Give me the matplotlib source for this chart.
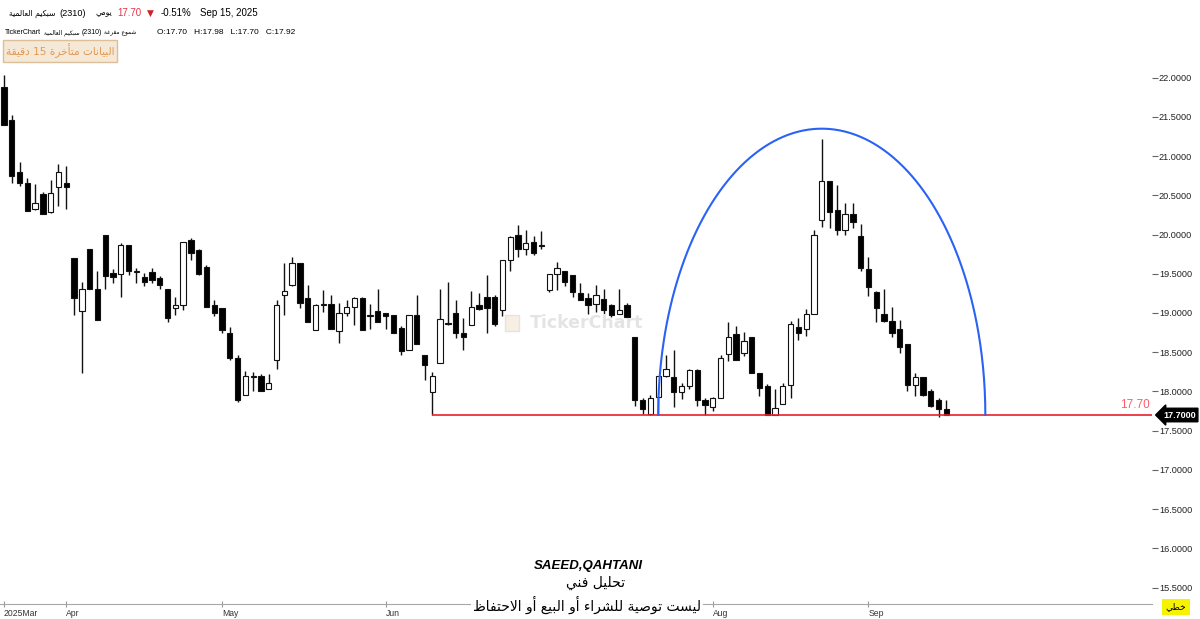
import matplotlib
matplotlib.use('Agg')
from matplotlib import pyplot as plt
from matplotlib.patches import Rectangle
import numpy as np
import re

# daily candles, Sipchem (2310)
opens = [21.88, 21.46, 20.80, 20.66, 20.32, 20.52, 20.29, 20.61, 20.66,
         19.70, 19.02, 19.81, 19.30, 20.00, 19.51, 19.50, 19.87, 19.52, 19.46,
         19.52, 19.44, 19.30, 19.06, 19.10, 19.93, 19.80, 19.59, 19.10, 19.06,
         18.74, 18.42, 17.96, 18.18, 18.20, 18.03, 18.40, 19.23, 19.36, 19.64,
         19.19, 18.78, 19.10, 19.12, 18.77, 19.00, 19.08, 19.19, 18.96, 19.02,
         19.00, 18.98, 18.81, 18.53, 18.98, 18.47, 17.99, 18.36, 18.86, 19.00,
         18.74, 18.85, 19.10, 19.21, 19.21, 19.04, 19.67, 20.00, 19.82, 19.90,
         19.87, 19.29, 19.50, 19.54, 19.48, 19.26, 19.19, 19.12, 19.18, 19.10,
         18.99, 19.10, 18.70, 17.89, 17.71, 17.93, 18.20, 18.18, 17.99, 18.07,
         18.27, 17.89, 17.80, 17.92, 18.48, 18.73, 18.49, 18.69, 18.23, 18.07,
         17.70, 17.84, 18.08, 18.82, 18.80, 18.99, 20.19, 20.68, 20.31, 20.06,
         20.26, 19.98, 19.56, 19.27, 18.99, 18.90, 18.80, 18.60, 18.08, 18.18,
         18.00, 17.89, 17.78]
highs = [22.03, 21.52, 20.92, 20.72, 20.64, 20.54, 20.70, 20.90, 20.88,
         19.70, 19.40, 19.82, 19.54, 20.00, 19.56, 19.89, 19.87, 19.57, 19.51,
         19.58, 19.47, 19.30, 19.21, 19.91, 19.96, 19.82, 19.61, 19.16, 19.06,
         18.82, 18.47, 18.26, 18.25, 18.22, 18.22, 19.16, 19.64, 19.72, 19.64,
         19.36, 19.12, 19.29, 19.23, 19.13, 19.17, 19.20, 19.20, 19.11, 19.31,
         19.00, 18.98, 18.83, 18.98, 19.23, 18.47, 18.25, 19.31, 19.40, 19.16,
         18.94, 19.28, 19.25, 19.49, 19.23, 19.67, 19.98, 20.12, 20.06, 19.98,
         20.05, 19.50, 19.65, 19.54, 19.48, 19.38, 19.25, 19.36, 19.30, 19.12,
         19.30, 19.13, 18.70, 17.91, 17.96, 18.20, 18.46, 18.53, 18.11, 18.28,
         18.28, 17.92, 17.93, 18.46, 18.88, 18.84, 18.76, 18.69, 18.23, 18.10,
         18.03, 18.11, 18.90, 18.94, 19.05, 20.06, 21.22, 20.68, 20.63, 20.40,
         20.40, 20.14, 19.72, 19.28, 19.30, 19.08, 18.91, 18.60, 18.23, 18.19,
         18.03, 17.91, 17.89]
lows = [21.40, 20.66, 20.62, 20.30, 20.31, 20.26, 20.28, 20.36, 20.32,
        18.98, 18.23, 19.30, 18.91, 19.31, 19.38, 19.20, 19.48, 19.38, 19.35,
        19.38, 19.30, 18.88, 18.98, 19.04, 19.67, 19.48, 19.08, 18.96, 18.74,
        18.40, 17.87, 17.95, 18.00, 18.00, 18.03, 18.28, 18.98, 19.34, 19.07,
        18.89, 18.78, 19.01, 18.79, 18.62, 18.96, 18.85, 18.78, 18.79, 18.89,
        18.80, 18.74, 18.47, 18.53, 18.60, 18.14, 17.70, 18.36, 18.85, 18.68,
        18.53, 18.85, 19.04, 18.75, 18.84, 18.96, 19.54, 19.72, 19.74, 19.74,
        19.82, 19.27, 19.29, 19.34, 19.21, 19.16, 18.99, 19.01, 18.99, 18.95,
        18.99, 18.93, 17.82, 17.71, 17.70, 17.70, 18.18, 17.80, 17.90, 18.03,
        17.82, 17.70, 17.75, 17.92, 18.39, 18.40, 18.45, 18.23, 17.94, 17.70,
        17.70, 17.84, 17.92, 18.66, 18.71, 18.99, 20.10, 20.08, 19.99, 20.00,
        20.08, 19.54, 19.22, 18.88, 18.88, 18.69, 18.49, 18.00, 17.94, 17.94,
        17.80, 17.68, 17.70]
closes = [21.40, 20.75, 20.66, 20.30, 20.40, 20.26, 20.53, 20.80, 20.61,
          19.19, 19.30, 19.30, 18.91, 19.47, 19.46, 19.87, 19.54, 19.53, 19.40,
          19.42, 19.36, 18.93, 19.10, 19.91, 19.76, 19.50, 19.08, 19.00, 18.78,
          18.42, 17.89, 18.20, 18.20, 18.01, 18.11, 19.10, 19.28, 19.64, 19.13,
          18.89, 19.10, 19.12, 18.79, 19.00, 19.08, 19.19, 18.78, 18.97, 18.89,
          18.96, 18.74, 18.52, 18.98, 18.60, 18.34, 18.20, 18.92, 18.87, 18.74,
          18.70, 19.08, 19.05, 19.06, 18.86, 19.67, 19.97, 19.82, 19.89, 19.77,
          19.85, 19.50, 19.58, 19.39, 19.27, 19.16, 19.10, 19.23, 19.04, 18.97,
          19.04, 18.95, 17.89, 17.78, 17.91, 18.20, 18.28, 17.99, 18.07, 18.27,
          17.89, 17.83, 17.91, 18.43, 18.69, 18.40, 18.64, 18.23, 18.05, 17.70,
          17.79, 18.07, 18.86, 18.75, 18.99, 19.99, 20.68, 20.29, 20.06, 20.26,
          20.16, 19.58, 19.33, 19.07, 18.90, 18.75, 18.57, 18.08, 18.19, 17.96,
          17.82, 17.78, 17.70]

month_pos = [0, 8, 28, 49, 67, 91, 111]
month_labels = ['2025Mar', 'Apr', 'May', 'Jun', '', 'Aug', 'Sep']  # Jul is hidden under the note
y_ticks = [15.5, 16.0, 16.5, 17.0, 17.5, 18.0, 18.5, 19.0, 19.5, 20.0, 20.5, 21.0, 21.5, 22.0]

support_level = 17.70
support_start = 55
arc_center = 105
arc_halfwidth = 21
arc_top = 21.35

# --- minimal arabic shaping (matplotlib has no bidi / joining) ---
FORMS = {
    'ا': (0xFE8D, 0xFE8E, None, None), 'أ': (0xFE83, 0xFE84, None, None),
    'ب': (0xFE8F, 0xFE90, 0xFE91, 0xFE92), 'ة': (0xFE93, 0xFE94, None, None),
    'ت': (0xFE95, 0xFE96, 0xFE97, 0xFE98), 'ح': (0xFEA1, 0xFEA2, 0xFEA3, 0xFEA4),
    'خ': (0xFEA5, 0xFEA6, 0xFEA7, 0xFEA8), 'د': (0xFEA9, 0xFEAA, None, None),
    'ر': (0xFEAD, 0xFEAE, None, None), 'س': (0xFEB1, 0xFEB2, 0xFEB3, 0xFEB4),
    'ش': (0xFEB5, 0xFEB6, 0xFEB7, 0xFEB8), 'ص': (0xFEB9, 0xFEBA, 0xFEBB, 0xFEBC),
    'ط': (0xFEC1, 0xFEC2, 0xFEC3, 0xFEC4), 'ظ': (0xFEC5, 0xFEC6, 0xFEC7, 0xFEC8),
    'ع': (0xFEC9, 0xFECA, 0xFECB, 0xFECC), 'غ': (0xFECD, 0xFECE, 0xFECF, 0xFED0),
    'ف': (0xFED1, 0xFED2, 0xFED3, 0xFED4), 'ق': (0xFED5, 0xFED6, 0xFED7, 0xFED8),
    'ك': (0xFED9, 0xFEDA, 0xFEDB, 0xFEDC), 'ل': (0xFEDD, 0xFEDE, 0xFEDF, 0xFEE0),
    'م': (0xFEE1, 0xFEE2, 0xFEE3, 0xFEE4), 'ن': (0xFEE5, 0xFEE6, 0xFEE7, 0xFEE8),
    'ه': (0xFEE9, 0xFEEA, 0xFEEB, 0xFEEC), 'و': (0xFEED, 0xFEEE, None, None),
    'ي': (0xFEF1, 0xFEF2, 0xFEF3, 0xFEF4), 'ء': (0xFE80, None, None, None),
}
LAM_ALEF = {'ا': (0xFEFB, 0xFEFC), 'أ': (0xFEF7, 0xFEF8)}


def ar(text):
    chars = list(text)
    out = []
    i = 0
    prev_dual = False
    while i < len(chars):
        c = chars[i]
        if c not in FORMS:
            out.append(c)
            prev_dual = False
            i += 1
            continue
        iso, fin, ini, med = FORMS[c]
        jp = prev_dual and fin is not None
        if c == 'ل' and i + 1 < len(chars) and chars[i + 1] in LAM_ALEF:
            lig = LAM_ALEF[chars[i + 1]]
            out.append(chr(lig[1] if jp else lig[0]))
            prev_dual = False
            i += 2
            continue
        nxt = chars[i + 1] if i + 1 < len(chars) else ''
        jn = ini is not None and nxt in FORMS and FORMS[nxt][1] is not None
        if jp and jn:
            f = med
        elif jp:
            f = fin
        elif jn:
            f = ini
        else:
            f = iso
        out.append(chr(f))
        prev_dual = ini is not None
        i += 1
    s = ''.join(out)[::-1]
    return re.sub(r'[0-9A-Za-z.,:%]+', lambda m: m.group(0)[::-1], s)


AR = ['DejaVu Sans']
LAT = ['Liberation Sans']

fig = plt.figure(figsize=(12, 6.19), dpi=100)
renderer = fig.canvas.get_renderer()
ax = fig.add_axes([0, 15 / 619, 1152 / 1200, (604 - 62) / 619])

x = np.arange(len(opens))
o = np.array(opens)
c = np.array(closes)
up = c >= o

ax.vlines(x, lows, highs, color='#111111', linewidth=1, zorder=2)
body = np.where(np.abs(c - o) < 0.012, 0.012, c - o)
ax.bar(x, body, bottom=o, width=0.68,
       color=np.where(up, 'white', 'black'), edgecolor='#111111',
       linewidth=0.8, zorder=3)

# support line and arc
ax.hlines(support_level, support_start, 200, color='#e8202e', linewidth=1.2, zorder=4)
t = np.linspace(0, np.pi, 300)
ax.plot(arc_center + arc_halfwidth * np.cos(t),
        support_level + (arc_top - support_level) * np.sin(t),
        color='#2a62f5', linewidth=1.5, zorder=4)

ax.set_xlim(-0.51, 147.4)
ax.set_ylim(15.29, 22.20)

for s in ['top', 'left', 'right']:
    ax.spines[s].set_visible(False)
ax.spines['bottom'].set_color('#a8a8a8')

ax.yaxis.tick_right()
ax.set_yticks(y_ticks)
ax.set_yticklabels(['%.4f' % v for v in y_ticks], fontfamily='Liberation Sans')
ax.tick_params(axis='y', length=4, color='#666666', labelsize=6.6, pad=1, labelcolor='#222222')
ax.set_xticks(month_pos)
ax.set_xticklabels(month_labels, fontfamily='Liberation Sans')
ax.tick_params(axis='x', direction='inout', length=5, color='#999999', labelsize=6.2,
               pad=1, labelcolor='#333333')
for lbl in ax.get_xticklabels():
    lbl.set_ha('left')

# right side labels
ax.text(0.998, support_level + 0.045, '17.70', transform=ax.get_yaxis_transform(),
        ha='right', va='bottom', color='#ff5a6a', fontsize=8.5, fontfamily='Liberation Sans')
fig.text(1163 / 1200, 1 - 415 / 619, '17.7000', color='white', fontsize=6.5, fontweight='bold',
         fontfamily='Liberation Sans', ha='left', va='center',
         bbox=dict(boxstyle='larrow,pad=0.25', facecolor='black', edgecolor='black'))

# watermark
fig.text(587 / 1200, 1 - 323 / 619, 'TickerChart', color='#e4e4e4', fontsize=12.5,
         fontweight='bold', ha='center', va='center', zorder=0)
fig.patches.append(Rectangle((505 / 1200, 1 - 331 / 619), 14 / 1200, 16 / 619,
                             transform=fig.transFigure, facecolor='#f7efe2',
                             edgecolor='#e4e4e4', linewidth=1, zorder=0))


def px(xp, yp):
    return xp / 1200, 1 - yp / 619


def row(x0, yp, items):
    # items: (text, fontsize, family, color, gap after in px)
    xp = x0
    for txt, size, fam, col, gap in items:
        tx = fig.text(*px(xp, yp), txt, fontsize=size, family=fam, color=col, va='center')
        xp = tx.get_window_extent(renderer).x1 + gap


# header line 1
row(9, 13, [(ar('سبكيم العالمية'), 5.6, AR, 'black', 4),
            ('(2310)', 6.6, LAT, 'black', 9),
            (ar('يومي'), 5.6, AR, 'black', 0)])
fig.text(*px(117, 13), '17.70', fontsize=7, color='#e8344a', family=LAT, va='center')
fig.text(*px(150, 13), '▼', fontsize=6.5, color='#d0202c', ha='center', va='center')
fig.text(*px(161, 13), '-0.51%', fontsize=7, family=LAT, va='center')
fig.text(*px(200, 13), 'Sep 15, 2025', fontsize=7, family=LAT, va='center')

# header line 2
row(5, 33, [('TickerChart', 5.0, LAT, 'black', 3),
            (ar('سبكيم العالمية'), 4.2, AR, 'black', 2),
            ('(2310)', 5.0, LAT, 'black', 2),
            (ar('شموع مفرغة'), 4.2, AR, 'black', 0)])
fig.text(*px(157, 33), 'O:17.70   H:17.98   L:17.70   C:17.92', fontsize=6,
         family=LAT, va='center')
fig.text(*px(60, 51), ar('البيانات متأخرة 15 دقيقة'), fontsize=7.6, family=AR,
         color='#e39a52', ha='center', va='center',
         bbox=dict(boxstyle='square,pad=0.3', facecolor='#f5e8d6', edgecolor='#dcbf98'))

# signature
fig.text(*px(588, 566), 'SAEED,QAHTANI', fontsize=9.5, fontweight='bold', fontstyle='italic',
         family=LAT, ha='center', va='center')
fig.text(*px(596, 583), ar('تحليل فني'), fontsize=10, family=AR, ha='center', va='center')
fig.text(*px(587, 605), ar('ليست توصية للشراء أو البيع أو الاحتفاظ'), fontsize=10, family=AR,
         ha='center', va='center', zorder=5,
         bbox=dict(boxstyle='square,pad=0.15', facecolor='white', edgecolor='none', alpha=0.93))

fig.text(*px(1176, 607), ar('خطي'), fontsize=6.5, family=AR, ha='center', va='center',
         bbox=dict(boxstyle='square,pad=0.35', facecolor='#f6f300', edgecolor='none'))

fig.savefig('out.png', dpi=100)
